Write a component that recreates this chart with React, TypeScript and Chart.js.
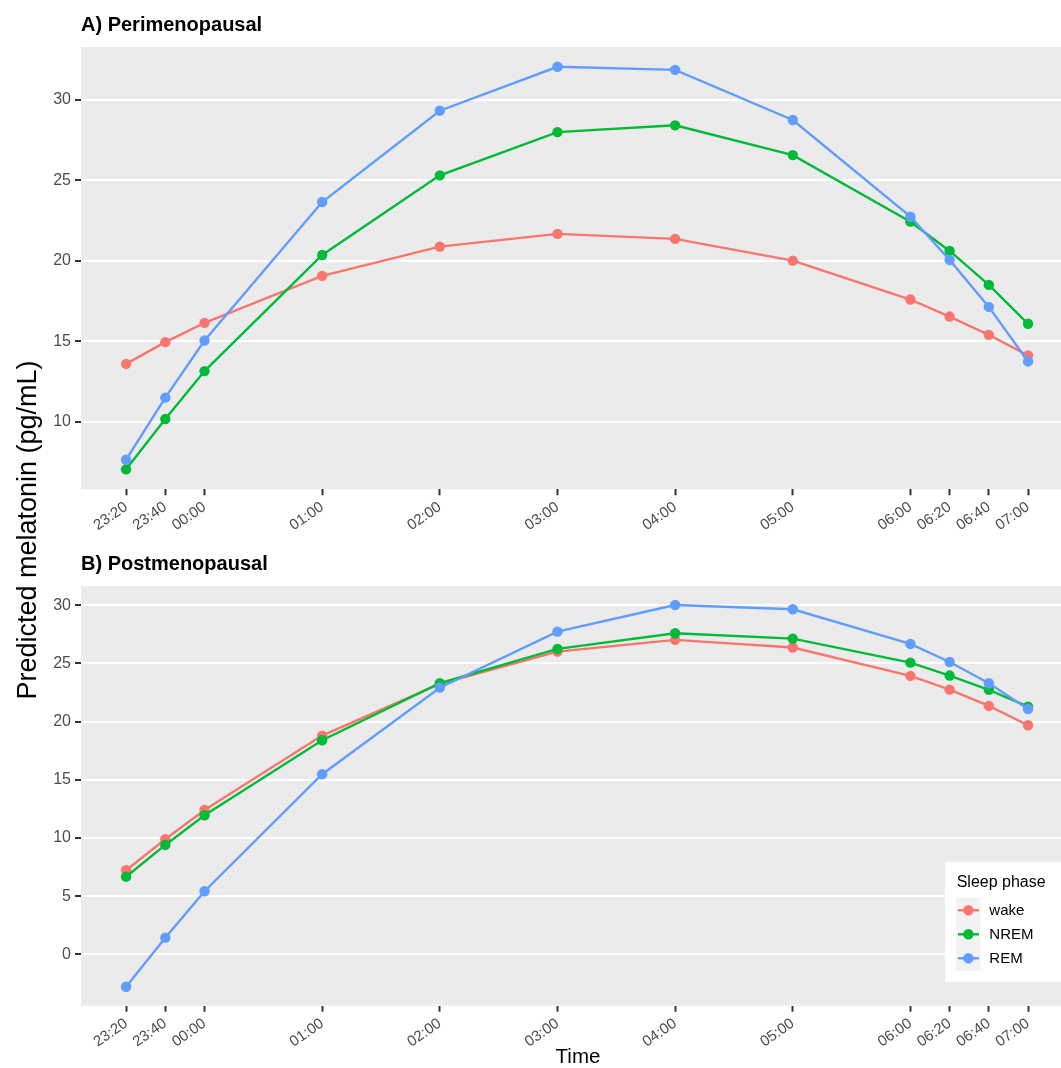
import React, { useEffect, useRef } from 'react';
import { Chart, registerables } from 'chart.js';

Chart.register(...registerables);

// ---- data ----
const timeLabels = ['23:20', '23:40', '00:00', '01:00', '02:00', '03:00', '04:00', '05:00', '06:00', '06:20', '06:40', '07:00'];
// minutes after 23:20
const timeMinutes = [0, 20, 40, 100, 160, 220, 280, 340, 400, 420, 440, 460];

const seriesNames = ['wake', 'NREM', 'REM'];
const seriesColors = ['#F8766D', '#00BA38', '#619CFF'];

const periWake = [13.6, 14.95, 16.15, 19.07, 20.89, 21.68, 21.37, 20.02, 17.6, 16.54, 15.4, 14.12];
const periNREM = [7.04, 10.17, 13.15, 20.37, 25.32, 28.01, 28.43, 26.58, 22.44, 20.62, 18.51, 16.09];
const periREM = [7.64, 11.5, 15.05, 23.66, 29.34, 32.07, 31.88, 28.76, 22.75, 20.06, 17.14, 13.75];

const postWake = [7.22, 9.89, 12.41, 18.8, 23.24, 26.02, 27.03, 26.37, 23.93, 22.75, 21.35, 19.69];
const postNREM = [6.67, 9.4, 11.95, 18.4, 23.3, 26.25, 27.6, 27.14, 25.07, 23.96, 22.73, 21.29];
const postREM = [-2.79, 1.43, 5.42, 15.48, 22.92, 27.74, 30.03, 29.66, 26.68, 25.13, 23.3, 21.09];

const periYTicks = [10, 15, 20, 25, 30];
const postYTicks = [0, 5, 10, 15, 20, 25, 30];

const periYRange = [5.8, 33.3];
const postYRange = [-4.42, 31.66];
const xRange = [-23, 476.8];

// ---- styles ----
const FONT = '"Liberation Sans", Arial, Helvetica, sans-serif';
const W = 1061;
const HA = 539;
const HB = 529;

function buildDatasets(values: number[][]) {
  return values.map((vals, i) => ({
    label: seriesNames[i],
    data: vals.map((v, j) => ({ x: timeMinutes[j], y: v })),
    borderColor: seriesColors[i],
    backgroundColor: seriesColors[i],
    borderWidth: 2.4,
    pointRadius: 5.2,
    pointBorderWidth: 0,
    pointBackgroundColor: seriesColors[i],
    tension: 0,
    order: 2 - i,
  }));
}

function makeChart(
  canvas: HTMLCanvasElement,
  title: string,
  values: number[][],
  yRange: number[],
  yTicks: number[],
  xAxisHeight: number,
  showTime: boolean,
  showLegend: boolean,
) {
  const bgPlugin = {
    id: 'panelBg',
    beforeDraw(chart: any) {
      const { ctx, chartArea } = chart;
      ctx.save();
      ctx.fillStyle = '#EBEBEB';
      ctx.fillRect(chartArea.left, chartArea.top, chartArea.right - chartArea.left, chartArea.bottom - chartArea.top);
      ctx.restore();
    },
    afterDraw(chart: any) {
      const { ctx } = chart;
      ctx.save();
      ctx.fillStyle = '#000000';
      ctx.font = `bold 20px ${FONT}`;
      ctx.textBaseline = 'alphabetic';
      ctx.textAlign = 'left';
      ctx.fillText(title, 81, 31);
      if (showTime) {
        ctx.font = `20.5px ${FONT}`;
        ctx.textAlign = 'center';
        ctx.textBaseline = 'middle';
        ctx.fillText('Time', 578, 518);
        ctx.textAlign = 'left';
        ctx.textBaseline = 'alphabetic';
      }
      if (showLegend) {
        const bx = 945, by = 322.7;
        ctx.fillStyle = '#FFFFFF';
        ctx.fillRect(bx, by, W - bx, 120);
        ctx.fillStyle = '#000000';
        ctx.font = `16px ${FONT}`;
        ctx.fillText('Sleep phase', 956.7, 347.5);
        ctx.fillStyle = '#F2F2F2';
        ctx.fillRect(956, 358.7, 24.7, 73);
        seriesNames.forEach((name, i) => {
          const cy = 371.3 + i * 24;
          ctx.strokeStyle = seriesColors[i];
          ctx.lineWidth = 2.4;
          ctx.beginPath();
          ctx.moveTo(958, cy);
          ctx.lineTo(979, cy);
          ctx.stroke();
          ctx.fillStyle = seriesColors[i];
          ctx.beginPath();
          ctx.arc(968.4, cy, 5.2, 0, Math.PI * 2);
          ctx.fill();
          ctx.fillStyle = '#000000';
          ctx.font = `15px ${FONT}`;
          ctx.textBaseline = 'middle';
          ctx.fillText(name, 989.3, cy + 0.5);
        });
      }
      ctx.restore();
    },
  };

  return new Chart(canvas, {
    type: 'line',
    data: { datasets: buildDatasets(values) as any },
    plugins: [bgPlugin],
    options: {
      animation: false,
      responsive: false,
      events: [],
      layout: { autoPadding: false, padding: { top: 47, left: 0, right: 0, bottom: 0 } },
      plugins: { legend: { display: false }, tooltip: { enabled: false }, title: { display: false } },
      scales: {
        x: {
          type: 'linear',
          min: xRange[0],
          max: xRange[1],
          afterBuildTicks: (scale: any) => {
            scale.ticks = timeMinutes.map((v) => ({ value: v }));
          },
          afterFit: (scale: any) => {
            scale.height = xAxisHeight;
            scale.paddingLeft = 0;
            scale.paddingRight = 0;
          },
          border: { display: false },
          grid: {
            display: true,
            drawOnChartArea: false,
            drawTicks: true,
            tickLength: 6,
            tickColor: '#333333',
            tickWidth: 2,
          },
          ticks: {
            autoSkip: false,
            minRotation: 35,
            maxRotation: 35,
            padding: 3,
            color: '#4D4D4D',
            font: { family: FONT, size: 15 },
            callback: (_v: any, i: number) => timeLabels[i],
          },
          title: { display: false },
        },
        y: {
          type: 'linear',
          min: yRange[0],
          max: yRange[1],
          afterBuildTicks: (scale: any) => {
            scale.ticks = yTicks.map((v) => ({ value: v }));
          },
          afterFit: (scale: any) => {
            scale.width = 81;
          },
          border: { display: false },
          grid: {
            color: '#FFFFFF',
            lineWidth: 2,
            drawTicks: true,
            tickLength: 6,
            tickColor: '#333333',
            tickWidth: 2,
          },
          ticks: {
            padding: 4,
            color: '#4D4D4D',
            font: { family: FONT, size: 16 },
            callback: (v: any) => String(v),
          },
        },
      },
    } as any,
  });
}

export default function App() {
  const refA = useRef<HTMLCanvasElement>(null);
  const refB = useRef<HTMLCanvasElement>(null);

  useEffect(() => {
    document.body.style.margin = '0';
    document.body.style.background = '#FFFFFF';
    const a = makeChart(refA.current!, 'A) Perimenopausal', [periWake, periNREM, periREM], periYRange, periYTicks, HA - 489.3, false, false);
    const b = makeChart(refB.current!, 'B) Postmenopausal', [postWake, postNREM, postREM], postYRange, postYTicks, HB - 466.7, true, true);
    return () => {
      a.destroy();
      b.destroy();
    };
  }, []);

  return (
    <div style={{ position: 'relative', width: W, height: HA + HB, background: '#FFFFFF', overflow: 'hidden' }}>
      <canvas ref={refA} width={W} height={HA} style={{ position: 'absolute', left: 0, top: 0, width: W, height: HA }} />
      <canvas ref={refB} width={W} height={HB} style={{ position: 'absolute', left: 0, top: HA, width: W, height: HB }} />
      <div
        style={{
          position: 'absolute',
          left: 26.5 - 200,
          top: 530 - 15,
          width: 400,
          height: 30,
          lineHeight: '30px',
          textAlign: 'center',
          fontFamily: FONT,
          fontSize: 27,
          color: '#000000',
          transform: 'rotate(-90deg)',
          transformOrigin: '50% 50%',
          whiteSpace: 'nowrap',
        }}
      >
        Predicted melatonin (pg/mL)
      </div>
    </div>
  );
}
